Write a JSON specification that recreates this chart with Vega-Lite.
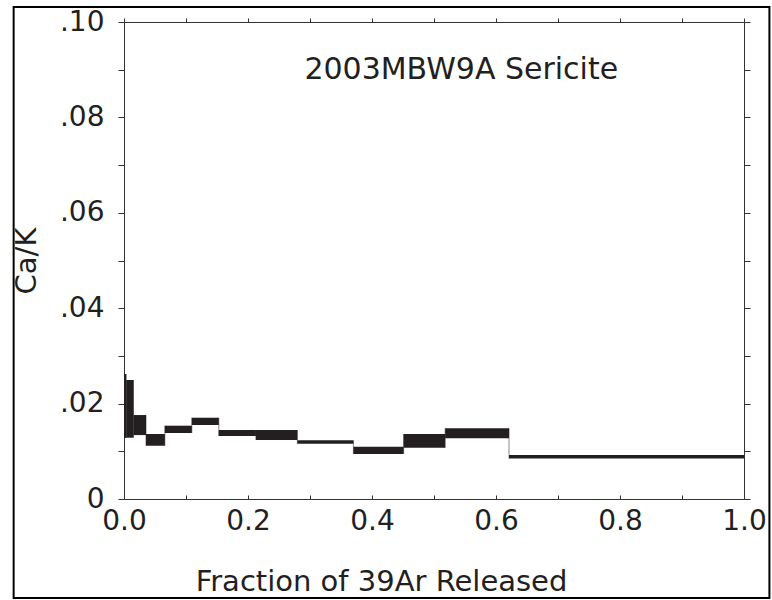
{
  "$schema": "https://vega.github.io/schema/vega-lite/v6.json",
  "width": 620,
  "height": 477,
  "autosize": {"type": "none"},
  "padding": {"left": 124, "top": 22, "right": 28, "bottom": 101},
  "background": "white",
  "config": {
    "view": {"stroke": null},
    "font": "DejaVu Sans",
    "axis": {"grid": false, "domainColor": "#333333", "tickColor": "#333333", "labelColor": "#231f20", "titleColor": "#231f20", "labelFont": "DejaVu Sans", "titleFont": "DejaVu Sans", "labelFontSize": 28, "titleFontSize": 29, "titleFontWeight": "normal"}
  },
  "datasets": {
    "steps": [
      {"f1": 0, "f2": 0.0035, "lo": 0.0128, "hi": 0.0262},
      {"f1": 0.0035, "f2": 0.0153, "lo": 0.01285, "hi": 0.02495},
      {"f1": 0.0153, "f2": 0.0355, "lo": 0.0134, "hi": 0.0176},
      {"f1": 0.0355, "f2": 0.0659, "lo": 0.01117, "hi": 0.01363},
      {"f1": 0.0659, "f2": 0.1094, "lo": 0.01384, "hi": 0.01537},
      {"f1": 0.1094, "f2": 0.1529, "lo": 0.01551, "hi": 0.01704},
      {"f1": 0.1529, "f2": 0.2128, "lo": 0.01321, "hi": 0.01447},
      {"f1": 0.2128, "f2": 0.2796, "lo": 0.01237, "hi": 0.01447},
      {"f1": 0.2796, "f2": 0.370, "lo": 0.0116, "hi": 0.0123},
      {"f1": 0.370, "f2": 0.451, "lo": 0.00943, "hi": 0.01096},
      {"f1": 0.451, "f2": 0.518, "lo": 0.01075, "hi": 0.01363},
      {"f1": 0.518, "f2": 0.621, "lo": 0.01273, "hi": 0.01482},
      {"f1": 0.621, "f2": 1.0, "lo": 0.00849, "hi": 0.00922}
    ],
    "links": [
      {"f": 0.0035, "lo": 0.0128, "hi": 0.0262},
      {"f": 0.0153, "lo": 0.01285, "hi": 0.02495},
      {"f": 0.0355, "lo": 0.01117, "hi": 0.0176},
      {"f": 0.0659, "lo": 0.01117, "hi": 0.01537},
      {"f": 0.1094, "lo": 0.01384, "hi": 0.01704},
      {"f": 0.1529, "lo": 0.01321, "hi": 0.01704},
      {"f": 0.2128, "lo": 0.01237, "hi": 0.01447},
      {"f": 0.2796, "lo": 0.0116, "hi": 0.01447},
      {"f": 0.370, "lo": 0.00943, "hi": 0.0123},
      {"f": 0.451, "lo": 0.00943, "hi": 0.01363},
      {"f": 0.518, "lo": 0.01075, "hi": 0.01482},
      {"f": 0.621, "lo": 0.00849, "hi": 0.01482}
    ],
    "label": [{"name": "2003MBW9A Sericite", "fx": 0.544, "cy": 0.0899}]
  },
  "resolve": {"axis": {"x": "independent", "y": "independent"}},
  "layer": [
    {
      "data": {"name": "links"},
      "mark": {"type": "rule", "color": "#8a8a8a", "strokeWidth": 1},
      "encoding": {
        "x": {"field": "f", "type": "quantitative", "scale": {"domain": [0, 1], "nice": false, "zero": false},
          "axis": {"orient": "bottom", "values": [0, 0.1, 0.2, 0.3, 0.4, 0.5, 0.6, 0.7, 0.8, 0.9, 1.0], "labelExpr": "round(datum.value*10)%2==0 ? format(datum.value,'.1f') : ''", "tickSize": -4, "labelPadding": 12, "title": "Fraction of 39Ar Released", "titleX": 257, "titleY": 91, "titleBaseline": "alphabetic", "titleAnchor": "middle", "labelFlush": false, "labelOverlap": false}},
        "y": {"field": "lo", "type": "quantitative", "scale": {"domain": [0, 0.1], "nice": false, "zero": false},
          "axis": {"orient": "left", "values": [0, 0.01, 0.02, 0.03, 0.04, 0.05, 0.06, 0.07, 0.08, 0.09, 0.1], "labelExpr": "round(datum.value*100)%2==0 ? (datum.value==0 ? '0' : replace(format(datum.value,'.2f'),'0.','.')) : ''", "tickSize": 6, "labelPadding": 14, "title": "Ca/K", "titlePadding": 18, "labelFlush": false, "labelOverlap": false}},
        "y2": {"field": "hi"}
      }
    },
    {
      "data": {"name": "steps"},
      "mark": {"type": "rect", "color": "#231f20"},
      "encoding": {
        "x": {"field": "f1", "type": "quantitative", "axis": {"orient": "top", "values": [0, 0.1, 0.2, 0.3, 0.4, 0.5, 0.6, 0.7, 0.8, 0.9, 1.0], "labels": false, "tickSize": 4, "title": null}},
        "x2": {"field": "f2"},
        "y": {"field": "lo", "type": "quantitative", "axis": {"orient": "right", "values": [0, 0.01, 0.02, 0.03, 0.04, 0.05, 0.06, 0.07, 0.08, 0.09, 0.1], "labels": false, "tickSize": 6, "title": null}},
        "y2": {"field": "hi"}
      }
    },
    {
      "data": {"name": "label"},
      "mark": {"type": "text", "font": "DejaVu Sans", "fontSize": 30, "color": "#231f20", "align": "center", "baseline": "middle"},
      "encoding": {
        "x": {"field": "fx", "type": "quantitative", "axis": null},
        "y": {"field": "cy", "type": "quantitative", "axis": null},
        "text": {"field": "name"}
      }
    },
    {
      "data": {"values": [{}]},
      "mark": {"type": "rect", "fill": null, "stroke": "#000000", "strokeWidth": 2, "clip": false},
      "encoding": {
        "x": {"datum": -0.178, "axis": null},
        "x2": {"datum": 1.041},
        "y": {"datum": 0.10314, "axis": null},
        "y2": {"datum": -0.02075}
      }
    }
  ]
}
